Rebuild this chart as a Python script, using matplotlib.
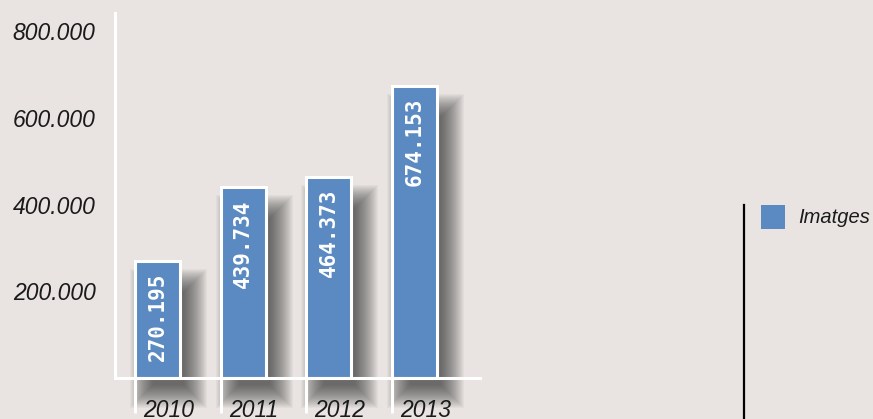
import matplotlib
matplotlib.use("Agg")
import matplotlib.pyplot as plt
from matplotlib.patches import Rectangle
from matplotlib.lines import Line2D

years = ["2010", "2011", "2012", "2013"]
values = [270195, 439734, 464373, 674153]
value_labels = ["270.195", "439.734", "464.373", "674.153"]
yticks = [200000, 400000, 600000, 800000]
ytick_labels = ["200.000", "400.000", "600.000", "800.000"]
series_name = "Imatges"

BG = "#E9E4E2"
BAR = "#5B89C2"
TXT = "#1a1a1a"
W, H = 873, 419
DPI = 100
FONT = "Liberation Sans"

fig = plt.figure(figsize=(W / DPI, H / DPI), dpi=DPI, facecolor=BG)
ax = fig.add_axes([115 / W, (H - 378) / H, (480 - 115) / W, (378 - 13) / H])
ax.set_facecolor(BG)
ax.set_xlim(-0.496, 3.764)
ax.set_ylim(0, 842000)

xs = list(range(len(values)))
bw = 0.525

# pixel scales
px_x = (480 - 115) / (3.764 + 0.496)
px_y = (378 - 13) / 842000

# soft drop shadows
for x, v in zip(xs, values):
    left = x - bw / 2
    dx, dy = 11, -14
    r = 24
    for i in range(r):
        e = r - i - 8
        rx = left + (dx - e) / px_x
        ry = 0 + (dy - e) / px_y
        rw = bw + 2 * e / px_x
        rh = v + 2 * e / px_y - 10 / px_y
        if rw <= 0:
            continue
        ax.add_patch(Rectangle((rx, ry), rw, rh, facecolor="#2a2a2a", alpha=0.04,
                               edgecolor="none", zorder=1, clip_on=False))

ax.bar(xs, values, width=bw, color=BAR, edgecolor="white", linewidth=2.2, zorder=3)

for x, v, lab in zip(xs, values, value_labels):
    ax.annotate(lab, (x, v), xytext=(0, -12), textcoords="offset pixels",
                rotation=90, ha="center", va="top", color="white",
                fontsize=15, fontweight="bold", family="DejaVu Sans Mono", zorder=4)

for s in ["top", "right"]:
    ax.spines[s].set_visible(False)
for s in ["left", "bottom"]:
    ax.spines[s].set_color("white")
    ax.spines[s].set_linewidth(2.2)
    ax.spines[s].set_zorder(5)

ax.set_yticks(yticks)
ax.set_yticklabels(ytick_labels, fontsize=16.5, fontstyle="italic", color=TXT, family=FONT)
ax.tick_params(axis="y", length=0, pad=14)

left_edges = [x - bw / 2 for x in xs]
ax.set_xticks(left_edges)
ax.set_xticklabels([])
ax.tick_params(axis="x", length=25, width=2.2, color="white", direction="out")
for le, yr in zip(left_edges, years):
    ax.annotate(yr, (le, 0), xytext=(8, -32), textcoords="offset pixels",
                ha="left", va="center", fontsize=16.5, fontstyle="italic",
                color=TXT, family=FONT, annotation_clip=False)

# legend
fig.add_artist(Line2D([744 / W, 744 / W], [0, (H - 205) / H], color="black",
                      linewidth=1.6, transform=fig.transFigure))
fig.add_artist(Rectangle((761 / W, (H - 229) / H), 24 / W, 24 / H,
                         facecolor=BAR, edgecolor="none", transform=fig.transFigure))
fig.text(798 / W, (H - 217) / H, series_name, fontsize=14.5, fontstyle="italic",
         color=TXT, family=FONT, ha="left", va="center")

fig.savefig("out.png", dpi=DPI, facecolor=BG)
